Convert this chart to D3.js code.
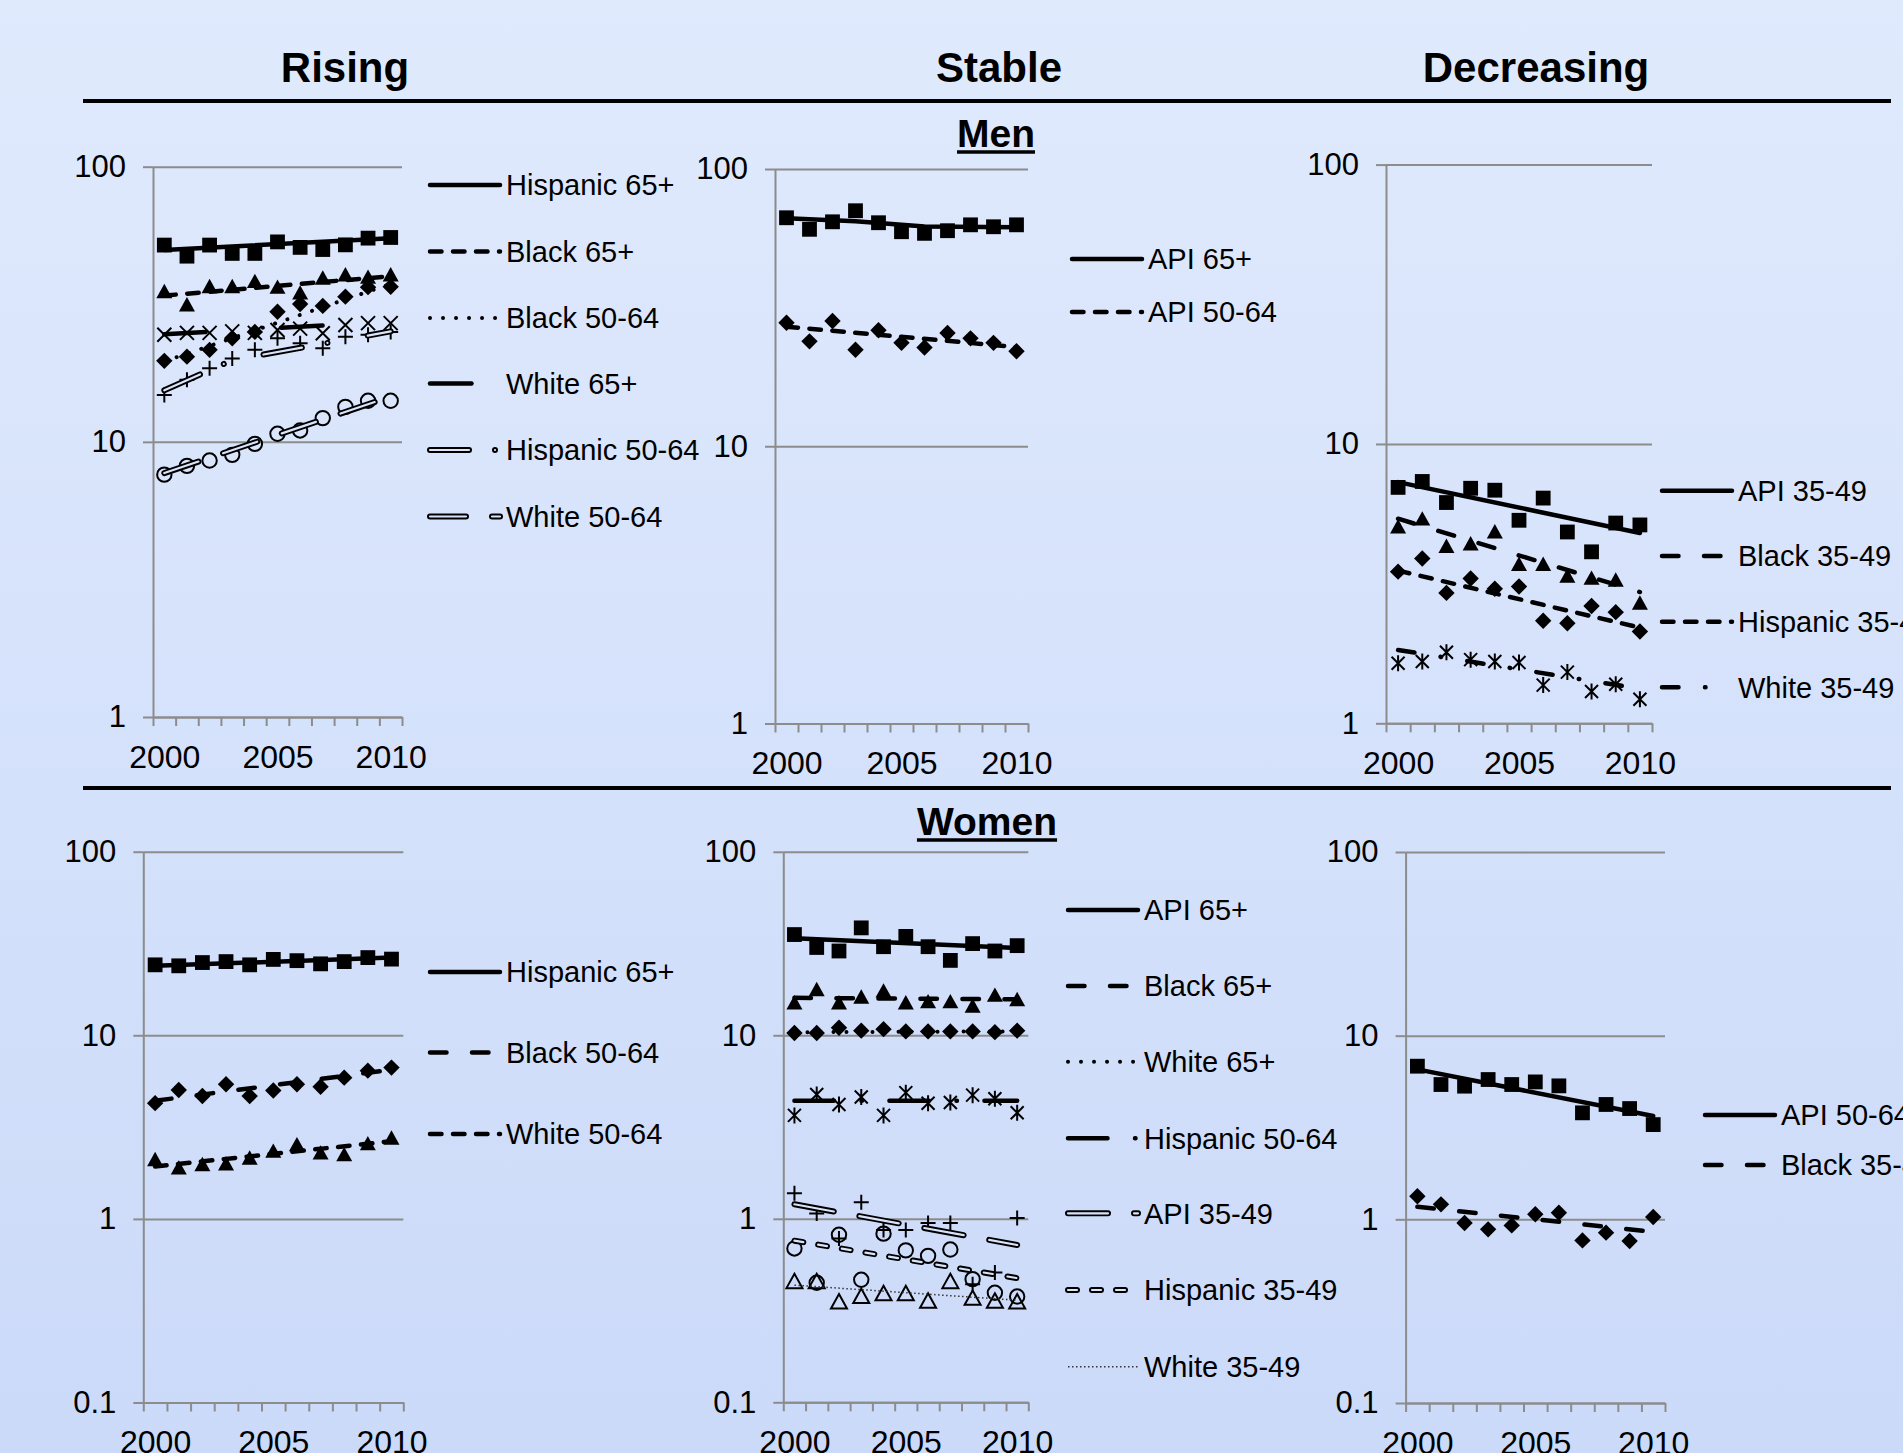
<!DOCTYPE html>
<html>
<head>
<meta charset="utf-8">
<script src="https://cdn.jsdelivr.net/npm/d3@7"></script>
<style>
  body { margin: 0; overflow: hidden; }
  svg { display: block; font-family: "Liberation Sans", Arial, sans-serif; }
</style>
</head>
<body>
<svg id="chart" width="1903" height="1453"></svg>
<script>

// ===========================//
// DATA
// ===========================//

var years = [2000, 2001, 2002, 2003, 2004, 2005, 2006, 2007, 2008, 2009, 2010]
var yearLabels = [2000, 2005, 2010]

// Men - rising
var mHisp65 = [51.9, 47.3, 51.9, 48.4, 48.4, 53.3, 50.9, 50.0, 52.0, 55.0, 55.3]
var mHisp65Fit = [[2000, 49.8], [2010, 55.0]]
var mBlack65 = [35.1, 31.4, 36.6, 36.6, 38.2, 36.4, 34.7, 39.3, 40.4, 39.6, 40.4]
var mBlack65Fit = [[2000, 34.0], [2010, 40.0]]
var mBlack5064 = [19.7, 20.4, 21.6, 23.8, 25.1, 29.7, 31.7, 31.2, 33.7, 36.5, 36.6]
var mBlack5064Fit = [[2000, 19.6], [2010, 37.5]]
var mWhite65 = [24.5, 24.9, 24.9, 25.2, 24.9, 25.5, 25.8, 24.8, 26.6, 27.0, 27.0]
var mWhite65Fit = [[2000, 24.6], [2010, 27.3]]
var mHisp5064 = [14.8, 16.8, 18.5, 20.1, 21.6, 23.8, 22.8, 21.9, 24.1, 24.5, 25.1]
var mHisp5064Fit = [[2000, 15.4], [2003, 19.8], [2010, 25.2]]
var mWhite5064 = [7.6, 8.18, 8.55, 8.97, 9.83, 10.7, 11.0, 12.2, 13.4, 14.1, 14.1]
var mWhite5064Fit = [[2000, 7.7], [2010, 14.6]]

// Men - stable
var mApi65 = [66.7, 60.6, 64.5, 70.7, 64.0, 59.4, 58.6, 59.9, 62.9, 61.9, 62.9]
var mApi65Fit = [[2000, 66.4], [2003, 64.8], [2006, 62.0], [2010, 61.6]]
var mApi5064 = [27.9, 23.9, 28.3, 22.3, 26.2, 23.6, 22.7, 25.6, 24.5, 23.6, 22.0]
var mApi5064Fit = [[2000, 27.0], [2010, 22.8]]

// Men - decreasing
var mApi3549 = [6.99, 7.34, 6.17, 6.94, 6.83, 5.33, 6.40, 4.84, 4.11, 5.21, 5.13]
var mApi3549Fit = [[2000, 7.3], [2010, 4.8]]
var mBlack3549 = [5.04, 5.38, 4.29, 4.38, 4.84, 3.70, 3.70, 3.36, 3.30, 3.25, 2.69]
var mBlack3549Fit = [[2000, 5.4], [2010, 2.95]]
var mHisp3549 = [3.49, 3.89, 2.93, 3.30, 3.03, 3.09, 2.33, 2.28, 2.63, 2.50, 2.13]
var mHisp3549Fit = [[2000, 3.52], [2010, 2.2]]
var mWhite3549 = [1.64, 1.665, 1.795, 1.69, 1.665, 1.65, 1.37, 1.525, 1.30, 1.38, 1.22]
var mWhite3549Fit = [[2000, 1.83], [2010, 1.33]]

// Women - rising
var wHisp65 = [24.2, 23.9, 24.9, 25.2, 24.2, 25.9, 25.5, 24.5, 25.2, 26.5, 26.0]
var wHisp65Fit = [[2000, 23.9], [2010, 26.5]]
var wBlack5064 = [4.27, 5.04, 4.67, 5.41, 4.67, 5.0, 5.41, 5.25, 5.88, 6.42, 6.67]
var wBlack5064Fit = [[2000, 4.4], [2010, 6.5]]
var wWhite5064 = [2.10, 1.89, 1.97, 1.99, 2.14, 2.33, 2.53, 2.28, 2.23, 2.56, 2.75]
var wWhite5064Fit = [[2000, 1.93], [2010, 2.65]]

// Women - stable
var wApi65 = [35.4, 30.1, 28.8, 38.5, 30.4, 34.6, 30.4, 25.6, 31.6, 28.8, 30.8]
var wApi65Fit = [[2000, 33.8], [2010, 29.9]]
var wBlack65 = [15.0, 17.7, 15.0, 16.1, 17.4, 15.0, 15.2, 15.2, 14.4, 16.5, 15.6]
var wBlack65Fit = [[2000, 16.0], [2010, 15.7]]
var wWhite65 = [10.3, 10.3, 11.0, 10.6, 10.8, 10.5, 10.5, 10.5, 10.5, 10.4, 10.6]
var wWhite65Fit = [[2000, 10.4], [2010, 10.5]]
var wHisp5064 = [3.66, 4.76, 4.20, 4.61, 3.66, 4.87, 4.26, 4.30, 4.72, 4.51, 3.78]
var wHisp5064Fit = [[2000, 4.4], [2010, 4.4]]
var wApi3549 = [1.38, 1.07, 0.78, 1.23, 0.87, 0.87, 0.95, 0.95, 0.44, 0.51, 1.01]
var wApi3549Fit = [[2000, 1.2], [2010, 0.72]]
var wHisp3549 = [0.689, 0.448, 0.818, 0.465, 0.83, 0.673, 0.628, 0.68, 0.469, 0.395, 0.377]
var wHisp3549Fit = [[2000, 0.76], [2010, 0.475]]
var wWhite3549 = [0.454, 0.454, 0.352, 0.377, 0.39, 0.39, 0.355, 0.454, 0.368, 0.355, 0.352]
var wWhite3549Fit = [[2000, 0.435], [2010, 0.36]]

// Women - decreasing
var wApi5064 = [6.82, 5.42, 5.31, 5.77, 5.42, 5.60, 5.33, 3.80, 4.22, 4.01, 3.28]
var wApi5064Fit = [[2000, 6.55], [2010, 3.65]]
var wBlack3549 = [1.335, 1.207, 0.955, 0.882, 0.927, 1.065, 1.087, 0.768, 0.846, 0.762, 1.03]
var wBlack3549Fit = [[2000, 1.17], [2010, 0.855]]


// ===========================//
// STYLES
// ===========================//

var gridColor = "#8c8c8c"
var gapColor = "#d9e4fb"   // inside of the double lines

// visible dash lengths (on, off, on, off...) for round caps
var lineStyles = {
  solid:   { w: 4.5, pat: null },
  dash:    { w: 4.5, pat: [16, 7] },
  dash2:   { w: 4.5, pat: [21, 21] },
  dot:     { w: 4,   pat: [4, 9] },
  longW:   { w: 4.5, pat: [46, 71] },
  ldd:     { w: 4.5, pat: [21, 22, 5, 22] },
  ldWomen: { w: 4.5, pat: [44, 23, 5, 23] },
  dblLdH:  { w: 6, pat: [45, 20, 5, 35], double: true },
  dblLong: { w: 6, pat: [42, 20], double: true },
  dblApi:  { w: 6, pat: [46, 20], double: true },
  dblDash: { w: 6, pat: [15, 9], double: true },
  thinDot: { w: 1.5, pat: [1.5, 2.5], color: "#333", butt: true }
}

function dashArray(st) {
  if (!st.pat) return null
  if (st.butt) return st.pat.join(" ")
  return st.pat.map(function(v, i){
    return i % 2 == 0 ? Math.max(v - st.w, 0.01) : v + st.w
  }).join(" ")
}

function markerPath(kind) {
  var r
  switch (kind) {
    case "square":   r = 7.4; return "M" + (-r) + "," + (-r) + "h" + 2*r + "v" + 2*r + "h" + (-2*r) + "Z"
    case "diamond":  r = 8.2; return "M0," + (-r) + "L" + r + ",0L0," + r + "L" + (-r) + ",0Z"
    case "triangle":
    case "otriangle": r = 8; return "M0," + (-r) + "L" + r + "," + (r*0.8) + "L" + (-r) + "," + (r*0.8) + "Z"
    case "x":        r = 7;   return "M" + (-r) + "," + (-r) + "L" + r + "," + r + "M" + r + "," + (-r) + "L" + (-r) + "," + r
    case "plus":     r = 7.5; return "M" + (-r) + ",0H" + r + "M0," + (-r) + "V" + r
    case "star":     r = 6.5; return "M" + (-r) + "," + (-r) + "L" + r + "," + r + "M" + r + "," + (-r) + "L" + (-r) + "," + r + "M0," + (-r-1.5) + "V" + (r+1.5)
    case "circle":   r = 7.2; return "M" + r + ",0A" + r + "," + r + " 0 1,1 " + (-r) + ",0A" + r + "," + r + " 0 1,1 " + r + ",0Z"
  }
}
var filledMarkers = ["square", "diamond", "triangle"]


// ===========================//
// PANELS
// ===========================//

var panels = [
  { x0: 153, x1: 402, yTop: 166.7, yBot: 717, domain: [1, 100], ticks: [1, 10, 100],
    legendX: 428, legendY: [185, 251.5, 318, 383.5, 450, 516.5],
    series: [
      { name: "Hispanic 65+",   values: mHisp65,    fit: mHisp65Fit,    marker: "square",   line: "solid" },
      { name: "Black 65+",      values: mBlack65,   fit: mBlack65Fit,   marker: "triangle", line: "dash" },
      { name: "Black 50-64",    values: mBlack5064, fit: mBlack5064Fit, marker: "diamond",  line: "dot" },
      { name: "White 65+",      values: mWhite65,   fit: mWhite65Fit,   marker: "x",        line: "longW" },
      { name: "Hispanic 50-64", values: mHisp5064,  fit: mHisp5064Fit,  marker: "plus",     line: "dblLdH" },
      { name: "White 50-64",    values: mWhite5064, fit: mWhite5064Fit, marker: "circle",   line: "dblLong" }
    ] },
  { x0: 775, x1: 1028, yTop: 169, yBot: 723.5, domain: [1, 100], ticks: [1, 10, 100],
    legendX: 1070, legendY: [259, 312],
    series: [
      { name: "API 65+",   values: mApi65,   fit: mApi65Fit,   marker: "square",  line: "solid" },
      { name: "API 50-64", values: mApi5064, fit: mApi5064Fit, marker: "diamond", line: "dash" }
    ] },
  { x0: 1386, x1: 1652, yTop: 164.6, yBot: 723.3, domain: [1, 100], ticks: [1, 10, 100],
    legendX: 1660, legendY: [490.7, 556, 621.7, 687.3],
    series: [
      { name: "API 35-49",      values: mApi3549,   fit: mApi3549Fit,   marker: "square",   line: "solid" },
      { name: "Black 35-49",    values: mBlack3549, fit: mBlack3549Fit, marker: "triangle", line: "dash2" },
      { name: "Hispanic 35-49", values: mHisp3549,  fit: mHisp3549Fit,  marker: "diamond",  line: "dash" },
      { name: "White 35-49",    values: mWhite3549, fit: mWhite3549Fit, marker: "star",     line: "ldd" }
    ] },
  { x0: 143.3, x1: 403.3, yTop: 851.7, yBot: 1402.5, domain: [0.1, 100], ticks: [0.1, 1, 10, 100],
    legendX: 428, legendY: [972, 1052.5, 1134],
    series: [
      { name: "Hispanic 65+", values: wHisp65,    fit: wHisp65Fit,    marker: "square",   line: "solid" },
      { name: "Black 50-64",  values: wBlack5064, fit: wBlack5064Fit, marker: "diamond",  line: "dash2" },
      { name: "White 50-64",  values: wWhite5064, fit: wWhite5064Fit, marker: "triangle", line: "dash" }
    ] },
  { x0: 783.3, x1: 1028.3, yTop: 851.8, yBot: 1402.3, domain: [0.1, 100], ticks: [0.1, 1, 10, 100],
    legendX: 1066, legendY: [910, 986, 1061.7, 1138.3, 1213.3, 1290, 1366.7],
    series: [
      { name: "API 65+",        values: wApi65,    fit: wApi65Fit,    marker: "square",    line: "solid" },
      { name: "Black 65+",      values: wBlack65,  fit: wBlack65Fit,  marker: "triangle",  line: "dash2" },
      { name: "White 65+",      values: wWhite65,  fit: wWhite65Fit,  marker: "diamond",   line: "dot" },
      { name: "Hispanic 50-64", values: wHisp5064, fit: wHisp5064Fit, marker: "star",      line: "ldWomen" },
      { name: "API 35-49",      values: wApi3549,  fit: wApi3549Fit,  marker: "plus",      line: "dblApi" },
      { name: "Hispanic 35-49", values: wHisp3549, fit: wHisp3549Fit, marker: "circle",    line: "dblDash" },
      { name: "White 35-49",    values: wWhite3549, fit: wWhite3549Fit, marker: "otriangle", line: "thinDot" }
    ] },
  { x0: 1405.6, x1: 1665, yTop: 852, yBot: 1403, domain: [0.1, 100], ticks: [0.1, 1, 10, 100],
    legendX: 1703, legendY: [1115, 1165],
    series: [
      { name: "API 50-64",   values: wApi5064,   fit: wApi5064Fit,   marker: "square",  line: "solid" },
      { name: "Black 35-49", values: wBlack3549, fit: wBlack3549Fit, marker: "diamond", line: "dash2" }
    ] }
]


// ===========================//
// BACKGROUND + HEADERS
// ===========================//

var svg = d3.select("#chart")

var grad = svg.append("defs").append("linearGradient")
  .attr("id", "bg").attr("x1", 0).attr("y1", 0).attr("x2", 0).attr("y2", 1)
grad.append("stop").attr("offset", "0%").attr("stop-color", "#e0eafd")
grad.append("stop").attr("offset", "100%").attr("stop-color", "#cbdaf9")
svg.append("rect").attr("width", 1903).attr("height", 1453).attr("fill", "url(#bg)")

var headers = [["Rising", 345], ["Stable", 999], ["Decreasing", 1536]]
svg.selectAll(".header")
  .data(headers)
  .enter()
  .append("text")
    .attr("class", "header")
    .attr("x", function(d){ return d[1] })
    .attr("y", 82)
    .attr("text-anchor", "middle")
    .attr("font-size", 42)
    .attr("font-weight", "bold")
    .text(function(d){ return d[0] })

// horizontal rules
svg.selectAll(".rule")
  .data([101, 788])
  .enter()
  .append("line")
    .attr("x1", 83).attr("x2", 1891)
    .attr("y1", function(d){ return d }).attr("y2", function(d){ return d })
    .attr("stroke", "#000").attr("stroke-width", 4)

// Men / Women labels, underlined
function sexLabel(txt, cx, base) {
  var t = svg.append("text")
    .attr("x", cx).attr("y", base)
    .attr("text-anchor", "middle")
    .attr("font-size", 39).attr("font-weight", "bold")
    .text(txt)
  var w = t.node().getComputedTextLength()
  svg.append("line")
    .attr("x1", cx - w/2).attr("x2", cx + w/2)
    .attr("y1", base + 5).attr("y2", base + 5)
    .attr("stroke", "#000").attr("stroke-width", 3.5)
}
sexLabel("Men", 996, 147)
sexLabel("Women", 987, 835)


// ===========================//
// DRAW PANELS
// ===========================//

function strokeLine(sel, st) {
  // one styled line (single, or the outer part of a double one)
  sel.attr("fill", "none")
    .attr("stroke", st.color || "#000")
    .attr("stroke-width", st.w)
    .attr("stroke-linecap", st.butt ? "butt" : "round")
    .attr("stroke-linejoin", "round")
    .attr("stroke-dasharray", dashArray(st))
}

function drawLine(g, d, st) {
  strokeLine(g.append("path").attr("d", d), st)
  if (st.double) {
    g.append("path").attr("d", d)
      .attr("fill", "none")
      .attr("stroke", gapColor)
      .attr("stroke-width", 2.2)
      .attr("stroke-linecap", "round")
      .attr("stroke-dasharray", dashArray(st))
  }
}

panels.forEach(function(p) {

  var g = svg.append("g")
  var w = p.x1 - p.x0

  var y = d3.scaleLog().domain(p.domain).range([p.yBot, p.yTop])
  var x = d3.scalePoint().domain(years).range([p.x0, p.x1]).padding(0.5)
  var xEdges = d3.scaleLinear().domain([0, years.length]).range([p.x0, p.x1])

  // gridlines
  var grid = g.append("g")
    .attr("transform", "translate(" + p.x0 + ",0)")
    .call(d3.axisLeft(y).tickValues(p.ticks).tickSizeInner(-w).tickSizeOuter(0).tickFormat(""))
  grid.select(".domain").remove()
  grid.selectAll("line").attr("stroke", gridColor).attr("stroke-width", 2)

  // y axis
  var yAxis = g.append("g")
    .attr("transform", "translate(" + p.x0 + ",0)")
    .call(d3.axisLeft(y).tickValues(p.ticks).tickSizeInner(10).tickSizeOuter(0).tickPadding(17)
      .tickFormat(function(d){ return d }))
  yAxis.attr("font-family", null).attr("font-size", 31)
  yAxis.select(".domain").attr("stroke", gridColor).attr("stroke-width", 2)
  yAxis.selectAll("line").attr("stroke", gridColor).attr("stroke-width", 2)
  yAxis.selectAll("text").attr("fill", "#000")

  // x axis ticks at category edges
  var xTicks = g.append("g")
    .attr("transform", "translate(0," + p.yBot + ")")
    .call(d3.axisBottom(xEdges).tickValues(d3.range(0, years.length + 1)).tickSizeInner(9).tickSizeOuter(0).tickFormat(""))
  xTicks.select(".domain").attr("stroke", gridColor).attr("stroke-width", 2)
  xTicks.selectAll("line").attr("stroke", gridColor).attr("stroke-width", 2)

  // x labels
  var xLab = g.append("g")
    .attr("transform", "translate(0," + p.yBot + ")")
    .call(d3.axisBottom(x).tickValues(yearLabels).tickSize(0).tickPadding(28))
  xLab.attr("font-family", null).attr("font-size", 32)
  xLab.select(".domain").remove()
  xLab.selectAll("text").attr("fill", "#000")

  // markers
  p.series.forEach(function(s) {
    var filled = filledMarkers.indexOf(s.marker) >= 0
    g.selectAll(null)
      .data(s.values)
      .enter()
      .append("path")
        .attr("d", markerPath(s.marker))
        .attr("transform", function(d, i){ return "translate(" + x(years[i]) + "," + y(d) + ")" })
        .attr("fill", filled ? "#000" : "none")
        .attr("stroke", filled ? "none" : "#000")
        .attr("stroke-width", 2)
  })

  // fitted trend lines
  var line = d3.line()
    .x(function(d){ return x(d[0]) })
    .y(function(d){ return y(d[1]) })
  p.series.forEach(function(s) {
    drawLine(g, line(s.fit), lineStyles[s.line])
  })

  // legend
  p.series.forEach(function(s, i) {
    var ly = p.legendY[i]
    drawLine(g, "M" + (p.legendX + 2) + "," + ly + "H" + (p.legendX + 72), lineStyles[s.line])
    g.append("text")
      .attr("x", p.legendX + 78)
      .attr("y", ly)
      .attr("dy", "0.36em")
      .attr("font-size", 29)
      .text(s.name)
  })
})

</script>
</body>
</html>
